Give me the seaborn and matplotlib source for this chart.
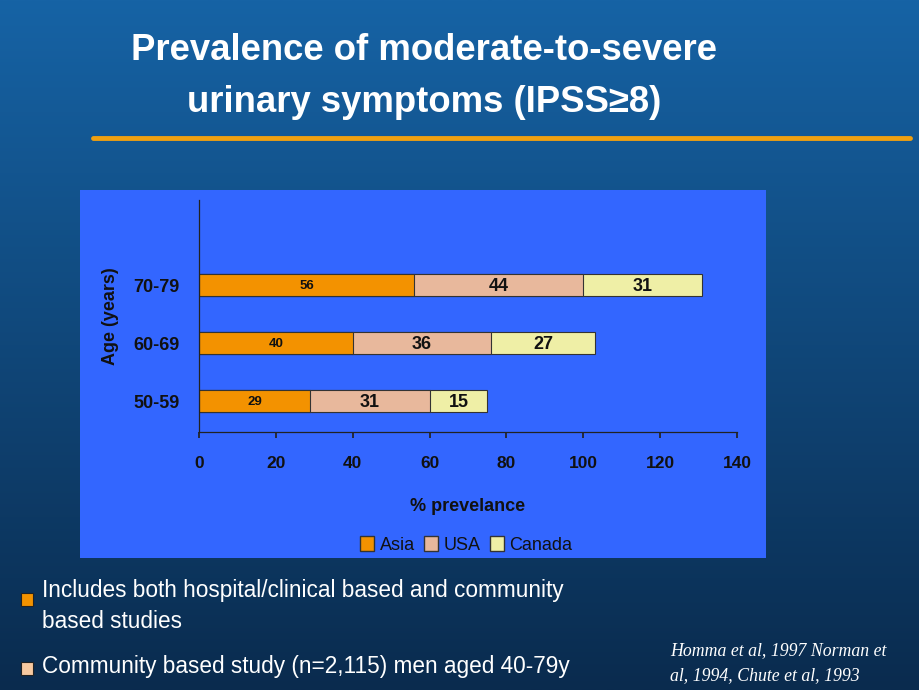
import numpy as np
import matplotlib
matplotlib.use("Agg")
import matplotlib.pyplot as plt
from matplotlib.patches import Rectangle, Patch
import pandas as pd
import seaborn as sns

# data
ages = ["70-79", "60-69", "50-59"]
asia = [56, 40, 29]
usa = [44, 36, 31]
canada = [31, 27, 15]
regions = ["Asia", "USA", "Canada"]
colors = ["#F39200", "#E8B89C", "#EFEFA6"]

sns.set_theme(style="white")
plt.rcParams["font.family"] = ["Liberation Sans", "DejaVu Sans"]

fig = plt.figure(figsize=(9.2, 6.9), dpi=100)

# slide background gradient
bg = fig.add_axes([0, 0, 1, 1], zorder=-10)
grad = np.linspace(0, 1, 256).reshape(-1, 1)
cmap = matplotlib.colors.LinearSegmentedColormap.from_list("bg", ["#1663A5", "#0A2B4E"])
bg.imshow(grad, aspect="auto", cmap=cmap, extent=[0, 1, 0, 1])
bg.set_axis_off()

# title + orange rule
tfam = ["Liberation Sans Narrow", "Liberation Sans", "DejaVu Sans"]
fig.text(0.461, 1 - 51 / 690, "Prevalence of moderate-to-severe", color="white",
         fontsize=26.3, fontweight="bold", ha="center", va="center", family=tfam)
fig.text(0.461, 1 - 102 / 690, "urinary symptoms (IPSS\u22658)", color="white",
         fontsize=26.3, fontweight="bold", ha="center", va="center", family=tfam)
fig.add_artist(plt.Line2D([93 / 920, 910 / 920], [1 - 138 / 690, 1 - 138 / 690],
                          color="#F0A010", lw=3.5, transform=fig.transFigure))

# chart panel
fig.patches.append(Rectangle((80 / 920, 1 - 558 / 690), 686 / 920, 368 / 690,
                             transform=fig.transFigure, facecolor="#3366FF",
                             edgecolor="none", zorder=-5))

ax = fig.add_axes([199 / 920, 1 - 432 / 690, 538 / 920, 232 / 690])
ax.set_facecolor("none")

df = pd.DataFrame({"age": ages, "Asia": asia, "USA": usa, "Canada": canada})
df["c1"] = df["Asia"]
df["c2"] = df["Asia"] + df["USA"]
df["c3"] = df["c2"] + df["Canada"]

# stacked look: draw cumulative totals, biggest first
for col, c in zip(["c3", "c2", "c1"], colors[::-1]):
    sns.barplot(data=df, x=col, y="age", order=ages, color=c, width=0.38,
                edgecolor="#333333", linewidth=0.8, saturation=1, ax=ax)

# segment labels
for i in range(len(ages)):
    left = 0
    for j, vals in enumerate([asia, usa, canada]):
        v = vals[i]
        ax.text(left + v / 2, i + 0.02, str(v), ha="center", va="center",
                fontsize=9.5 if j == 0 else 13, fontweight="bold", color="#111111")
        left += v

ax.set_xlim(0, 140)
ax.set_xticks(range(0, 141, 20))
ax.set_ylim(2.53, -1.47)
ax.set_xlabel("% prevelance", fontsize=13, fontweight="bold", color="#111111", labelpad=20)
ax.set_ylabel("Age (years)", fontsize=13, fontweight="bold", color="#111111", labelpad=10)
ax.tick_params(axis="x", length=4, direction="out", color="#222222", pad=13,
               labelsize=12.5, labelcolor="#111111", bottom=True)
ax.tick_params(axis="y", length=0, pad=14, labelsize=13, labelcolor="#111111")
for lab in ax.get_xticklabels() + ax.get_yticklabels():
    lab.set_fontweight("bold")
for s in ["top", "right"]:
    ax.spines[s].set_visible(False)
for s in ["left", "bottom"]:
    ax.spines[s].set_color("#222222")
    ax.spines[s].set_linewidth(0.9)

handles = [Patch(facecolor=c, edgecolor="#333333", label=r) for r, c in zip(regions, colors)]
fig.legend(handles=handles, loc="center", bbox_to_anchor=(466 / 920, 1 - 545 / 690),
           ncol=3, frameon=False, fontsize=13, handlelength=0.8, handleheight=0.9,
           handletextpad=0.3, columnspacing=0.5, labelcolor="#111111")

# bullets
fig.patches.append(Rectangle((21 / 920, 1 - 606 / 690), 12 / 920, 13 / 690,
                             transform=fig.transFigure, facecolor="#F39200",
                             edgecolor="#222222", lw=0.8))
fig.patches.append(Rectangle((21 / 920, 1 - 675 / 690), 12 / 920, 13 / 690,
                             transform=fig.transFigure, facecolor="#F7C9A0",
                             edgecolor="#222222", lw=0.8))
bfam = ["Liberation Sans Narrow", "Liberation Sans", "DejaVu Sans"]
fig.text(42 / 920, 1 - 590 / 690, "Includes both hospital/clinical based and community",
         color="white", fontsize=16.3, va="center", family=bfam)
fig.text(42 / 920, 1 - 621 / 690, "based studies", color="white", fontsize=16.3,
         va="center", family=bfam)
fig.text(42 / 920, 1 - 667 / 690, "Community based study (n=2,115) men aged 40-79y",
         color="white", fontsize=16.3, va="center", family=bfam)

# citation
cfam = ["Liberation Serif", "DejaVu Serif"]
fig.text(670 / 920, 1 - 651 / 690, "Homma et al, 1997 Norman et", color="white",
         fontsize=12.8, style="italic", va="center", family=cfam)
fig.text(670 / 920, 1 - 676 / 690, "al, 1994, Chute et al, 1993", color="white",
         fontsize=12.8, style="italic", va="center", family=cfam)

fig.savefig("out.png", dpi=100)
